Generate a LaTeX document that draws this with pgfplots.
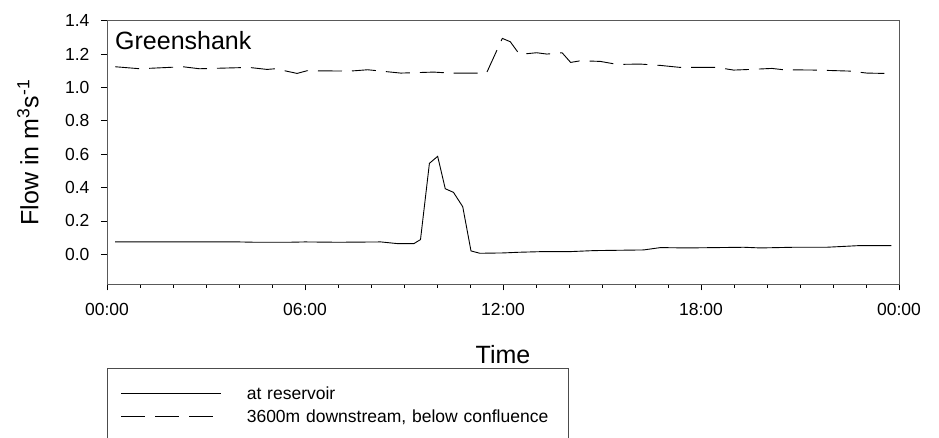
\documentclass[border=0pt]{standalone}
\usepackage{fontspec}
\setmainfont{Liberation Sans}
\usepackage{pgfplots}
\pgfplotsset{compat=1.18}
\begin{document}
\begin{tikzpicture}
\useasboundingbox (-107pt,-152.7pt) rectangle (832pt,284.3pt);
\begin{axis}[
  at={(0,0)}, anchor=south west,
  scale only axis, width=792pt, height=263.6pt,
  xmin=0, xmax=24, ymin=-0.18, ymax=1.4,
  axis x line=box, axis y line=box,
  x axis line style={black, line width=0.9pt},
  y axis line style={black!65, line width=0.9pt},
  tick pos=left, tick align=outside,
  major tick length=6pt, minor tick length=3.5pt,
  every tick/.style={black, line width=0.7pt},
  xtick={0,6,12,18,24},
  xticklabels={00:00,06:00,12:00,18:00,00:00},
  minor xtick={1,2,3,4,5,7,8,9,10,11,13,14,15,16,17,19,20,21,22,23},
  ytick={0,0.2,0.4,0.6,0.8,1.0,1.2,1.4},
  yticklabel style={/pgf/number format/fixed, /pgf/number format/precision=1, /pgf/number format/fixed zerofill, xshift=-8pt},
  xticklabel style={yshift=-9pt},
  /pgf/number format/assume math mode=true,
  tick label style={font=\fontsize{17.5}{20}\selectfont},
  every axis x label/.style={at={(axis description cs:0.5,-0.2997)}, anchor=base, font=\fontsize{25}{28}\selectfont},
  every axis y label/.style={at={(axis description cs:-0.0867,0.5)}, rotate=90, anchor=base, font=\fontsize{25}{28}\selectfont},
  xlabel={Time},
  ylabel={Flow in m\textsuperscript{3}s\textsuperscript{-1}},
  legend style={at={(axis description cs:0,-0.3175)}, anchor=north west,
    draw=black!70, line width=0.8pt, fill=white,
    inner xsep=13.5pt, inner ysep=17pt,
    row sep=7pt, column sep=25pt,
    font=\fontsize{17.5}{20}\selectfont,
    cells={anchor=west},
    nodes={inner sep=0pt, text height=14pt, text depth=2pt}},
  legend image code/.code={\draw[#1] (0pt,0pt) -- (100pt,0pt);},
]
\addplot[black, line width=0.9pt] coordinates {
(0.25,0.074)(2,0.074)(4,0.074)(4.5,0.072)(5.5,0.072)(6,0.074)(7,0.072)(8.3,0.074)
(8.8,0.064)(9.3,0.064)(9.5,0.088)(9.77,0.545)(10.02,0.587)(10.25,0.393)(10.5,0.371)
(10.78,0.285)(11.03,0.02)(11.3,0.006)(12,0.008)(12.47,0.012)(13.2,0.016)(14.04,0.016)
(14.75,0.022)(16.26,0.026)(16.77,0.04)(17.58,0.038)(19.3,0.042)(19.8,0.038)(20.8,0.042)
(21.8,0.042)(22.8,0.052)(23.77,0.052)
};
\addlegendentry[text width=308pt]{at reservoir}
\addplot[black, line width=0.9pt, dash pattern=on 24pt off 10pt] coordinates {
(0.25,1.124)(1.0,1.112)(2.3,1.124)(2.8,1.112)(4.3,1.12)(4.85,1.108)(5.1,1.112)(5.76,1.084)
(6.06,1.1)(7.37,1.098)(7.9,1.106)(8.2,1.1)(8.9,1.086)(9.9,1.092)(10.4,1.086)(11.5,1.086)
(11.98,1.294)(12.22,1.274)(12.5,1.198)(13.02,1.208)(13.33,1.2)(13.79,1.208)(14.05,1.15)
(14.35,1.16)(14.95,1.156)(15.46,1.138)(16.16,1.14)(16.77,1.132)(17.37,1.12)(18.48,1.12)
(18.99,1.104)(19.5,1.108)(20.15,1.114)(20.5,1.106)(21.5,1.104)(22.5,1.098)(23.03,1.086)
(23.56,1.084)
};
\addlegendentry[text width=308pt]{3600m downstream, below confluence}
\node[anchor=base west, inner sep=0pt, font=\fontsize{25}{28}\selectfont] at (axis description cs:0.0101,0.890) {Greenshank};
\end{axis}
\end{tikzpicture}
\end{document}
